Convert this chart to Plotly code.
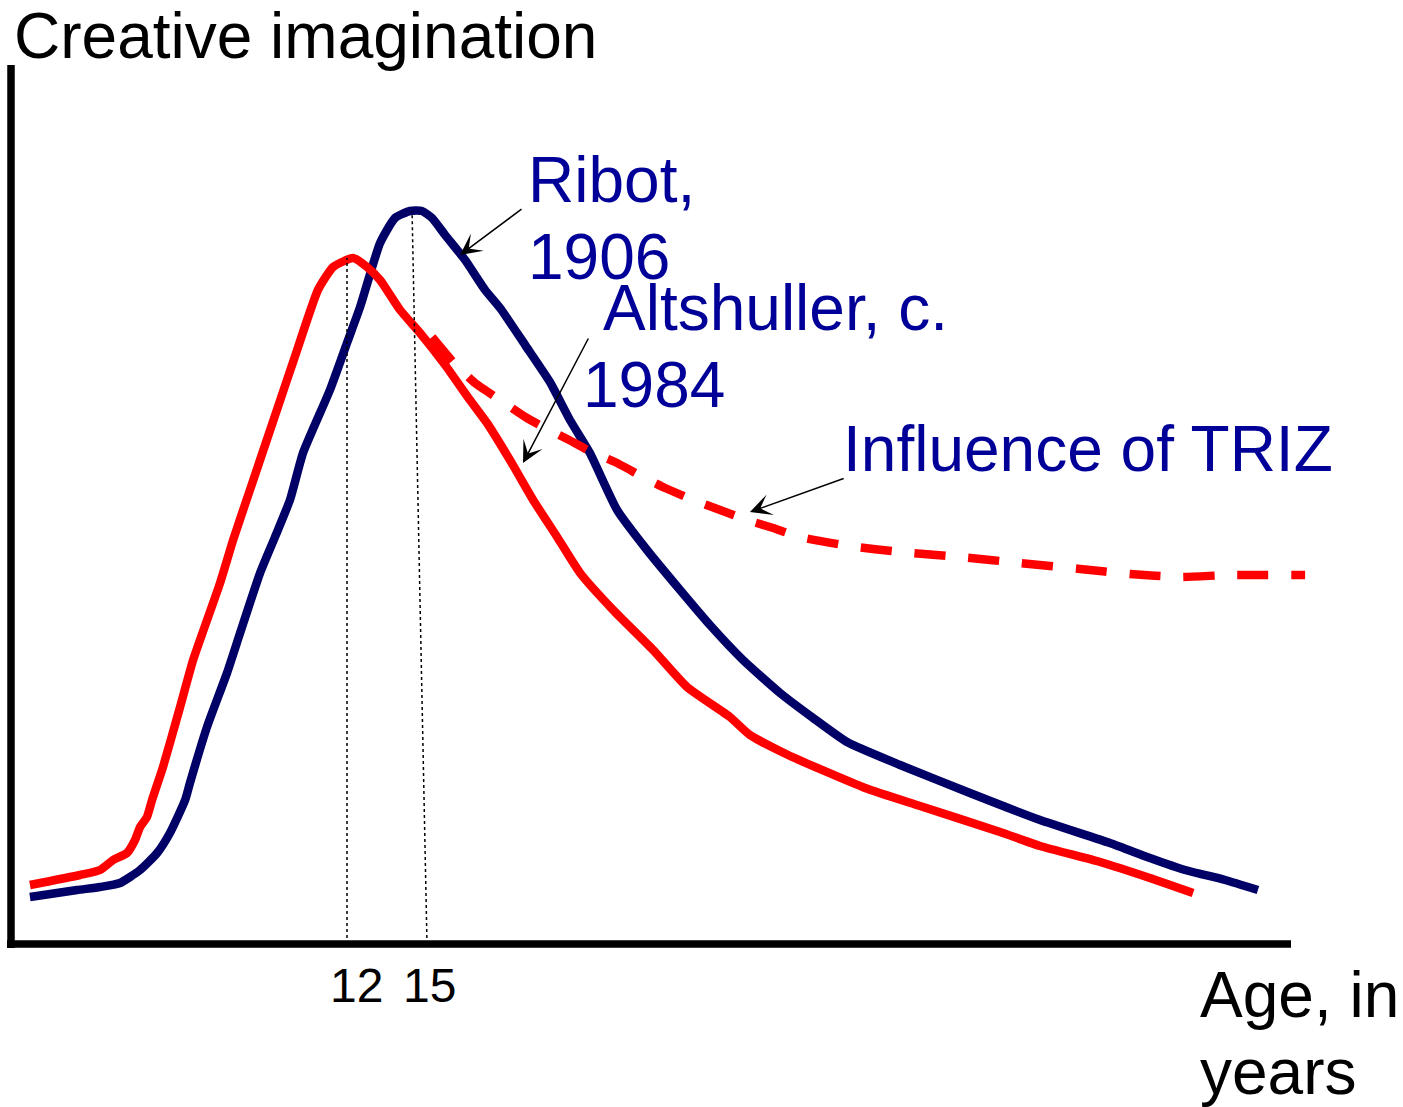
import plotly.graph_objects as go

# ---------------- data (age in years, creative imagination in arbitrary units) -------------
ribot_age = [0.11, 1.88, 2.74, 3.49, 4.24, 4.88, 5.36, 5.93, 6.11, 6.75, 7.5, 7.99, 8.74, 9.3,
             9.86, 10.35, 11.36, 12.0, 12.49, 13.24, 13.8, 14.36, 14.81, 15.19, 15.68, 16.43,
             17.18, 17.74, 18.68, 19.61, 20.36, 21.11, 22.13, 23.25, 24.49, 25.61, 26.85,
             28.24, 29.48, 30.75, 32.74, 35.36, 37.99, 40.61, 42.11, 43.43, 44.93, 46.16]
ribot_val = [4.7, 5.4, 5.7, 6.1, 7.4, 9.1, 11.1, 14.4, 16.1, 21.7, 27.1, 31.1, 37.1, 40.7,
             44.4, 49.1, 55.4, 60.1, 63.7, 70.1, 72.6, 73.3, 73.3, 72.6, 70.9, 68.4,
             65.4, 63.6, 59.9, 56.2, 52.4, 49.1, 43.4, 39.4, 35.4, 31.9, 28.4,
             25.1, 22.6, 20.2, 17.9, 15.1, 12.4, 10.1, 8.6, 7.4, 6.4, 5.4]

alt_age = [0.11, 1.99, 2.74, 3.23, 3.75, 4.05, 4.24, 4.5, 4.69, 5.1, 5.74, 6.23, 7.24, 7.73,
           8.36, 9.75, 10.13, 10.91, 11.48, 12.23, 12.75, 13.24, 13.99, 14.74, 15.68, 16.61,
           17.25, 18.11, 18.98, 19.88, 20.74, 21.98, 23.48, 24.75, 26.36, 27.11, 28.54,
           31.43, 33.49, 36.49, 37.99, 40.24, 42.11, 43.73]
alt_val = [5.9, 6.9, 7.4, 8.4, 9.1, 10.4, 11.7, 12.7, 14.4, 17.7, 23.7, 28.4, 36.1, 40.4,
           45.4, 56.4, 59.4, 65.4, 67.7, 68.6, 67.7, 66.4, 63.4, 61.1, 57.9, 54.4,
           52.1, 48.4, 44.4, 40.7, 37.1, 33.4, 29.4, 25.7, 22.7, 20.9, 18.9,
           15.6, 13.8, 11.2, 9.8, 8.2, 6.6, 5.1]

triz_age = [15.19, 15.98, 16.8, 17.74, 18.75, 19.43, 20.33, 21.23, 22.05, 23.1, 23.93, 24.98,
            25.99, 27.0, 27.98, 28.99, 30.86, 32.74, 34.99, 37.24, 39.49, 41.36, 43.24,
            45.11, 47.93]
triz_val = [60.7, 58.2, 56.1, 54.4, 52.6, 51.6, 50.4, 49.1, 48.2, 46.7, 45.6, 44.4,
            43.4, 42.4, 41.6, 40.7, 39.8, 39.2, 38.7, 38.1, 37.5, 37.0, 36.7,
            36.9, 36.9]

tick_ages = [12, 15]
tick_labels = ["12", "15"]

# ---------------- styles ----------------
NAVY = "#000066"
TEXT_BLUE = "#000099"
RED = "#FF0000"
FONT = "Liberation Sans, Arial, sans-serif"
LW = 8.5

fig = go.Figure()
fig.add_trace(go.Scatter(x=ribot_age, y=ribot_val, mode="lines",
                         line=dict(color=NAVY, width=LW, shape="spline", smoothing=0.5),
                         hoverinfo="skip"))
fig.add_trace(go.Scatter(x=alt_age, y=alt_val, mode="lines",
                         line=dict(color=RED, width=LW, shape="spline", smoothing=0.5),
                         hoverinfo="skip"))
fig.add_trace(go.Scatter(x=triz_age, y=triz_val, mode="lines",
                         line=dict(color=RED, width=LW, dash="31px,23px",
                                   shape="spline", smoothing=0.5),
                         hoverinfo="skip"))

# dotted guide lines from the peaks down to the axis
peak_a = alt_val[alt_age.index(12.23)]
peak_r = max(ribot_val)
fig.add_shape(type="line", x0=tick_ages[0], y0=0, x1=tick_ages[0], y1=peak_a,
              line=dict(color="black", width=1.5, dash="dot"), layer="above")
fig.add_shape(type="line", x0=tick_ages[1], y0=0, x1=14.44, y1=peak_r,
              line=dict(color="black", width=1.5, dash="dot"), layer="above")

# axes drawn as thick lines
fig.add_shape(type="line", x0=-0.6, y0=-0.4, x1=-0.6, y1=87.9,
              line=dict(color="black", width=7.5))
fig.add_shape(type="line", x0=-0.75, y0=0, x1=47.4, y1=0,
              line=dict(color="black", width=7.5))

ann = []
def label(text, x, y, size, color, anchor="left"):
    ann.append(dict(text=text, x=x, y=y, xref="x", yref="y", showarrow=False,
                    xanchor=anchor, yanchor="middle",
                    font=dict(family=FONT, size=size, color=color)))

label("Creative imagination", -0.56, 90.85, 64, "black")
label("Ribot,", 18.7, 76.45, 64, TEXT_BLUE)
label("1906", 18.7, 68.75, 64, TEXT_BLUE)
label("Altshuller, c.", 21.53, 63.65, 64, TEXT_BLUE)
label("1984", 20.78, 55.95, 64, TEXT_BLUE)
label("Influence of TRIZ", 30.53, 49.5, 64, TEXT_BLUE)
label("Age, in", 43.9, -5.05, 64, "black")
label("years", 43.9, -12.8, 64, "black")
label(tick_labels[0], tick_ages[0] + 0.34, -4.1, 48, "black", "center")
label(tick_labels[1], tick_ages[1] + 0.08, -4.1, 48, "black", "center")

def arrow(x_tip, y_tip, x_tail, y_tail):
    ann.append(dict(text="", x=x_tip, y=y_tip, ax=x_tail, ay=y_tail,
                    xref="x", yref="y", axref="x", ayref="y", showarrow=True,
                    arrowhead=3, arrowsize=2.4, arrowwidth=1.5, arrowcolor="black",
                    standoff=0, startstandoff=0))

arrow(16.24, 68.9, 18.6, 73.6)
arrow(18.6, 48.1, 21.08, 60.7)
arrow(27.11, 43.2, 30.68, 46.6)

fig.update_layout(
    width=1403, height=1107,
    margin=dict(l=0, r=0, t=0, b=0, autoexpand=False),
    paper_bgcolor="white", plot_bgcolor="white",
    showlegend=False,
    xaxis=dict(range=[-1.0125, 51.6], visible=False, fixedrange=True),
    yaxis=dict(range=[-16.3, 94.4], visible=False, fixedrange=True),
    annotations=ann,
)

fig.write_html("out.html", config={"displayModeBar": False},
               post_script="document.body.style.margin='0';")
